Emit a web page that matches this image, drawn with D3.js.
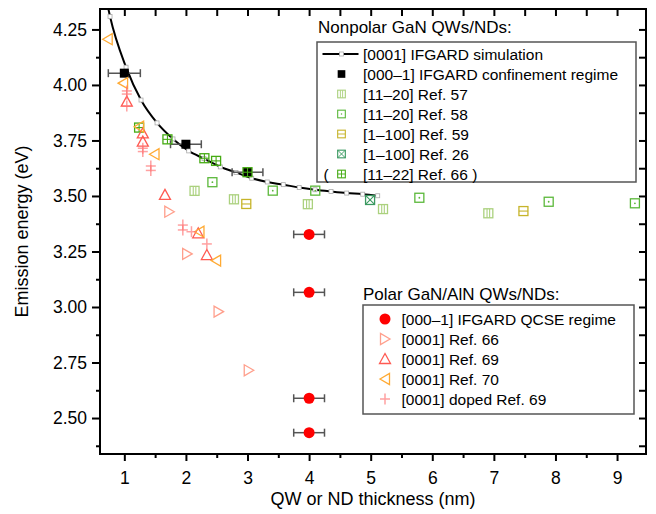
<!DOCTYPE html>
<html lang="en">
<head>
<meta charset="UTF-8">
<title>Emission energy vs QW/ND thickness</title>
<script src="https://d3js.org/d3.v7.min.js"></script>
<style>
  body { margin: 0; background: #fff; }
  svg text { font-family: "Liberation Sans", Arial, Helvetica, sans-serif; fill: #000; }
</style>
</head>
<body>
<svg id="chart" width="656" height="514"></svg>
<script>
// ---- data ----
// [0001] IFGARD simulation curve
const simX = [0.72, 0.768, 1.028, 1.271, 1.531, 1.790, 2.045, 2.294, 2.558, 2.813, 3.068, 3.321, 3.581, 3.839, 4.096, 4.356, 4.610, 4.870, 5.114];
const simE = [4.37, 4.308, 4.080, 3.932, 3.829, 3.757, 3.703, 3.668, 3.631, 3.606, 3.580, 3.563, 3.551, 3.538, 3.528, 3.520, 3.513, 3.508, 3.501];

// [000-1] IFGARD confinement regime (with x error)
const confX = [1, 2, 3];
const confE = [4.053, 3.733, 3.607];
const confErr = [0.26, 0.25, 0.25];

// [000-1] IFGARD QCSE regime
const qcseX = [4, 4, 4, 4];
const qcseE = [3.327, 3.066, 2.589, 2.434];
const qcseErr = [0.25, 0.25, 0.25, 0.25];

// nonpolar references
const ref57X = [2.14, 2.78, 3.98, 5.20, 6.91];
const ref57E = [3.523, 3.485, 3.463, 3.441, 3.422];
const ref58X = [2.43, 3.41, 4.10, 5.79, 7.89, 9.29];
const ref58E = [3.562, 3.524, 3.524, 3.492, 3.474, 3.467];
const ref59X = [2.98, 7.48];
const ref59E = [3.464, 3.432];
const ref26X = [4.99];
const ref26E = [3.482];
const ref66nX = [1.24, 1.70, 2.30, 2.49, 3.00];
const ref66nE = [3.808, 3.755, 3.670, 3.658, 3.607];

// polar references
const ref66pX = [1.73, 2.02, 2.53, 3.02];
const ref66pE = [3.429, 3.239, 2.979, 2.715];
const ref69X = [1.04, 1.30, 1.30, 1.66, 2.20, 2.34];
const ref69E = [3.925, 3.782, 3.745, 3.505, 3.332, 3.234];
const ref70X = [0.73, 0.98, 1.24, 1.49, 2.22, 2.49];
const ref70E = [4.206, 4.008, 3.812, 3.688, 3.339, 3.209];
const dopedX = [1.04, 1.04, 1.04, 1.30, 1.30, 1.43, 1.43, 1.95, 1.95, 2.09, 2.34];
const dopedE = [3.973, 3.959, 3.905, 3.715, 3.700, 3.635, 3.615, 3.369, 3.347, 3.339, 3.284];

// axes
const xMajor = [1, 2, 3, 4, 5, 6, 7, 8, 9];
const xMinor = [1.5, 2.5, 3.5, 4.5, 5.5, 6.5, 7.5, 8.5];
const yMajor = [2.50, 2.75, 3.00, 3.25, 3.50, 3.75, 4.00, 4.25];
const yMinor = [2.375, 2.625, 2.875, 3.125, 3.375, 3.625, 3.875, 4.125];

// legends
const nonpolarLabels = ["[0001] IFGARD simulation", "[000\u20131] IFGARD confinement regime",
  "[11\u201320] Ref. 57", "[11\u201320] Ref. 58", "[1\u2013100] Ref. 59", "[1\u2013100] Ref. 26", "[11\u201322] Ref. 66 )"];
const polarLabels = ["[000\u20131] IFGARD QCSE regime", "[0001] Ref. 66", "[0001] Ref. 69",
  "[0001] Ref. 70", "[0001] doped Ref. 69"];

// ---- drawing ----
const svg = d3.select("#chart");
const margin = {left: 100, top: 9, right: 10, bottom: 60};
const W = 656 - margin.left - margin.right;
const H = 514 - margin.top - margin.bottom;

const x = d3.scaleLinear().domain([0.605, 9.47]).range([0, W]);
const y = d3.scaleLinear().domain([2.338, 4.342]).range([H, 0]);

const g = svg.append("g").attr("transform", `translate(${margin.left},${margin.top})`);

svg.append("defs").append("clipPath").attr("id", "clip")
  .append("rect").attr("width", W).attr("height", H);

const plot = g.append("g").attr("clip-path", "url(#clip)");

// marker shapes centred on 0,0
function drawMarker(sel, type, color) {
  const s = 4.5;
  const sq = () => sel.append("rect").attr("x", -s).attr("y", -s).attr("width", 2 * s).attr("height", 2 * s)
    .attr("fill", "none").attr("stroke", color).attr("stroke-width", 1.3);
  const ln = (x1, y1, x2, y2, w) => sel.append("line").attr("x1", x1).attr("y1", y1).attr("x2", x2).attr("y2", y2)
    .attr("stroke", color).attr("stroke-width", w || 1.1);
  if (type === "sqV") { sq(); ln(-1.3, -s, -1.3, s); ln(1.3, -s, 1.3, s); }
  else if (type === "sqDot") { sq(); sel.append("circle").attr("r", 0.9).attr("fill", color); }
  else if (type === "sqH") { sq(); ln(-s, 0, s, 0); }
  else if (type === "sqX") { sq(); ln(-s, -s, s, s); ln(-s, s, s, -s); }
  else if (type === "sqPlus") { sq(); ln(-s, 0, s, 0); ln(0, -s, 0, s); }
  else if (type === "filledSq") {
    sel.append("rect").attr("x", -s).attr("y", -s).attr("width", 2 * s).attr("height", 2 * s).attr("fill", color);
  }
  else if (type === "circle") { sel.append("circle").attr("r", 5.5).attr("fill", color); }
  else if (type === "triUp") {
    sel.append("path").attr("d", "M0,-5.5L5.5,4.5L-5.5,4.5Z").attr("fill", "none").attr("stroke", color).attr("stroke-width", 1.3);
  }
  else if (type === "triRight") {
    sel.append("path").attr("d", "M5,0L-4.5,-5.5L-4.5,5.5Z").attr("fill", "none").attr("stroke", color).attr("stroke-width", 1.3);
  }
  else if (type === "triLeft") {
    sel.append("path").attr("d", "M-5,0L4.5,-5.5L4.5,5.5Z").attr("fill", "none").attr("stroke", color).attr("stroke-width", 1.3);
  }
  else if (type === "plus") {
    sel.attr("opacity", 0.65);
    ln(-5, 0, 5, 0, 1.5); ln(0, -5.5, 0, 5.5, 1.5);
  }
}

function scatter(xs, es, type, color) {
  plot.append("g").selectAll("g").data(d3.zip(xs, es)).join("g")
    .attr("transform", d => `translate(${x(d[0])},${y(d[1])})`)
    .each(function () { drawMarker(d3.select(this), type, color); });
}

function errorBars(xs, es, errs) {
  const eb = plot.append("g").attr("stroke", "#555").attr("stroke-width", 1.5);
  d3.zip(xs, es, errs).forEach(([xv, ev, er]) => {
    const yy = y(ev);
    eb.append("line").attr("x1", x(xv - er)).attr("x2", x(xv + er)).attr("y1", yy).attr("y2", yy);
    eb.append("line").attr("x1", x(xv - er)).attr("x2", x(xv - er)).attr("y1", yy - 4).attr("y2", yy + 4);
    eb.append("line").attr("x1", x(xv + er)).attr("x2", x(xv + er)).attr("y1", yy - 4).attr("y2", yy + 4);
  });
}

const colors = {
  sim: "#000", conf: "#000", qcse: "#ff0000",
  ref57: "#abd17e", ref58: "#5bb83a", ref59: "#c6b42a", ref26: "#3a9960", ref66n: "#45ab13",
  ref66p: "#ff9f8c", ref69: "#ff5a52", ref70: "#ffaa33", doped: "#ff6f6f"
};

// simulation curve
const simPts = d3.zip(simX, simE);
plot.append("path").datum(simPts)
  .attr("d", d3.line().x(d => x(d[0])).y(d => y(d[1])).curve(d3.curveMonotoneX))
  .attr("fill", "none").attr("stroke", "#000").attr("stroke-width", 2);
plot.append("g").selectAll("rect").data(simPts).join("rect")
  .attr("x", d => x(d[0]) - 2).attr("y", d => y(d[1]) - 2).attr("width", 4).attr("height", 4)
  .attr("fill", "#fff").attr("stroke", "#aaa").attr("stroke-width", 0.8);

errorBars(confX, confE, confErr);
errorBars(qcseX, qcseE, qcseErr);
scatter(confX, confE, "filledSq", colors.conf);

scatter(ref57X, ref57E, "sqV", colors.ref57);
scatter(ref58X, ref58E, "sqDot", colors.ref58);
scatter(ref59X, ref59E, "sqH", colors.ref59);
scatter(ref26X, ref26E, "sqX", colors.ref26);
scatter(ref66nX, ref66nE, "sqPlus", colors.ref66n);

scatter(ref66pX, ref66pE, "triRight", colors.ref66p);
scatter(ref69X, ref69E, "triUp", colors.ref69);
scatter(ref70X, ref70E, "triLeft", colors.ref70);
scatter(dopedX, dopedE, "plus", colors.doped);
scatter(qcseX, qcseE, "circle", colors.qcse);

// axes
function styleAxis(a) {
  a.select(".domain").remove();
  a.selectAll("line").attr("stroke", "#000").attr("stroke-width", 2);
  a.selectAll("text").attr("font-size", "17.5px").attr("fill", "#000");
}
g.append("g").attr("transform", `translate(0,${H})`)
  .call(d3.axisBottom(x).tickValues(xMajor).tickSize(7).tickPadding(11).tickFormat(d3.format("d"))).call(styleAxis);
g.append("g").attr("transform", `translate(0,${H})`)
  .call(d3.axisBottom(x).tickValues(xMinor).tickSize(4).tickFormat("")).call(styleAxis);
g.append("g")
  .call(d3.axisLeft(y).tickValues(yMajor).tickSize(8).tickPadding(5).tickFormat(d3.format(".2f"))).call(styleAxis);
g.append("g")
  .call(d3.axisLeft(y).tickValues(yMinor).tickSize(4).tickFormat("")).call(styleAxis);
g.append("g")
  .call(d3.axisTop(x).tickValues(xMajor.concat(xMinor)).tickSize(-7).tickFormat("")).call(styleAxis);
g.append("g").attr("transform", `translate(${W},0)`)
  .call(d3.axisRight(y).tickValues(yMajor.concat(yMinor)).tickSize(-7).tickFormat("")).call(styleAxis);

g.append("rect").attr("width", W).attr("height", H)
  .attr("fill", "none").attr("stroke", "#000").attr("stroke-width", 2);

// axis titles
svg.append("text").attr("x", margin.left + W / 2).attr("y", 505).attr("text-anchor", "middle")
  .attr("font-size", "18px").text("QW or ND thickness (nm)");
svg.append("text").attr("transform", `translate(28,${margin.top + H / 2}) rotate(-90)`)
  .attr("text-anchor", "middle").attr("font-size", "18px").text("Emission energy (eV)");

// legends
function legend(title, tx, ty, box, labels, rows, markerX, textX, rowY0) {
  svg.append("text").attr("x", tx).attr("y", ty).attr("font-size", "17px").text(title);
  svg.append("rect").attr("x", box[0]).attr("y", box[1]).attr("width", box[2]).attr("height", box[3])
    .attr("fill", "#fff").attr("stroke", "#555").attr("stroke-width", 1.5);
  labels.forEach((lab, i) => {
    const yy = rowY0 + i * 20;
    const mg = svg.append("g").attr("transform", `translate(${markerX},${yy})`);
    rows[i](mg);
    svg.append("text").attr("x", textX).attr("y", yy + 5.5).attr("font-size", "15.5px").text(lab);
  });
}

const nonpolarRows = [
  m => {
    m.append("line").attr("x1", -19).attr("x2", 17).attr("stroke", "#000").attr("stroke-width", 2);
    m.append("rect").attr("x", -2).attr("y", -2).attr("width", 4).attr("height", 4)
      .attr("fill", "#fff").attr("stroke", "#aaa").attr("stroke-width", 0.8);
  },
  m => drawMarker(m.append("g").attr("transform", "scale(0.85)"), "filledSq", colors.conf),
  m => drawMarker(m.append("g").attr("transform", "scale(0.85)"), "sqV", colors.ref57),
  m => drawMarker(m.append("g").attr("transform", "scale(0.85)"), "sqDot", colors.ref58),
  m => drawMarker(m.append("g").attr("transform", "scale(0.85)"), "sqH", colors.ref59),
  m => drawMarker(m.append("g").attr("transform", "scale(0.85)"), "sqX", colors.ref26),
  m => {
    drawMarker(m.append("g").attr("transform", "scale(0.85)"), "sqPlus", colors.ref66n);
    m.append("text").attr("x", -18).attr("y", 5.5).attr("font-size", "15.5px").text("(");
  }
];
legend("Nonpolar GaN QWs/NDs:", 318, 33, [317, 42, 319, 140], nonpolarLabels, nonpolarRows, 341.5, 363, 54);

const polarRows = [
  m => drawMarker(m, "circle", colors.qcse),
  m => drawMarker(m, "triRight", colors.ref66p),
  m => drawMarker(m, "triUp", colors.ref69),
  m => drawMarker(m, "triLeft", colors.ref70),
  m => drawMarker(m, "plus", colors.doped)
];
legend("Polar GaN/AlN QWs/NDs:", 363, 300, [363, 305, 271, 109], polarLabels, polarRows, 385, 401.5, 319);
</script>
</body>
</html>
